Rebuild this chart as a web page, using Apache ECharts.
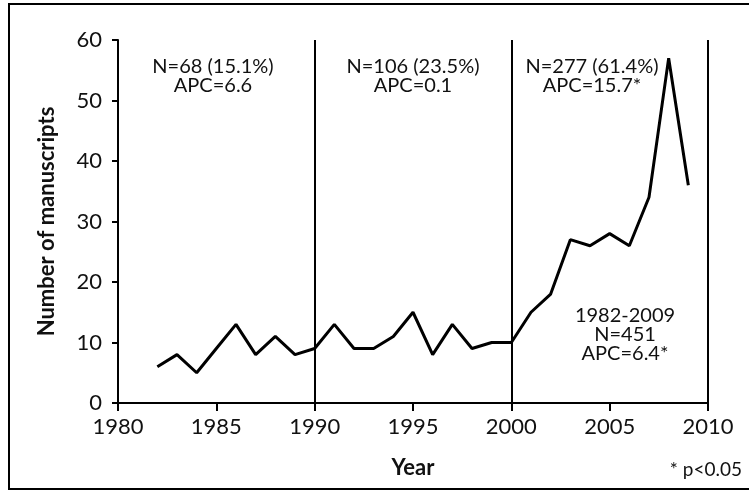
<!DOCTYPE html>
<html>
<head>
<meta charset="utf-8">
<script src="https://cdn.jsdelivr.net/npm/echarts@6/dist/echarts.min.js"></script>
<style>html,body{margin:0;padding:0;background:#fff;}#c{width:749px;height:493px;}</style>
</head>
<body>
<div id="c"></div>
<script>
var years = [1982,1983,1984,1985,1986,1987,1988,1989,1990,1991,1992,1993,1994,1995,1996,1997,1998,1999,2000,2001,2002,2003,2004,2005,2006,2007,2008,2009];
var counts = [6,8,5,9,13,8,11,8,9,13,9,9,11,15,8,13,9,10,10,15,18,27,26,28,26,34,57,36];
var dividers = [1990, 2000, 2010];
var xTicks = [1980,1985,1990,1995,2000,2005,2010];
var yTicks = [0,10,20,30,40,50,60];
var seg1 = ["N=68 (15.1%)", "APC=6.6"];
var seg2 = ["N=106 (23.5%)", "APC=0.1"];
var seg3 = ["N=277 (61.4%)", "APC=15.7*"];
var overall = ["1982-2009", "N=451", "APC=6.4*"];
var note = "* p<0.05";

var FONT = 'Lato';
var chart = echarts.init(document.getElementById('c'), null, {renderer:'canvas'});
var data = years.map(function(y,i){return [y, counts[i]];});

function txt(lines, x, y){
  return {type:'text', x:x, y:y, style:{text:lines.join('\n'), font:'20px ' + FONT, fill:'#111', align:'center', verticalAlign:'top', lineHeight:19}};
}

chart.setOption({
  backgroundColor:'#fff',
  animation:false,
  grid:{left:118, right:41, top:40, bottom:90, containLabel:false},
  xAxis:{
    type:'value', min:xTicks[0], max:xTicks[xTicks.length-1], interval:5,
    name:'Year', nameLocation:'middle', nameGap:54,
    nameTextStyle:{fontFamily:FONT, fontSize:22, fontWeight:'bold', color:'#111'},
    axisLine:{show:true, onZero:false, lineStyle:{color:'#000', width:2}},
    axisTick:{show:true, inside:false, length:8, lineStyle:{color:'#000', width:2}},
    axisLabel:{margin:13, fontFamily:FONT, fontSize:22, color:'#111', formatter:function(v){return String(v);}},
    splitLine:{show:false}
  },
  yAxis:{
    type:'value', min:yTicks[0], max:yTicks[yTicks.length-1], interval:10,
    name:'Number of manuscripts', nameLocation:'middle', nameGap:60,
    nameTextStyle:{fontFamily:FONT, fontSize:22, fontWeight:'bold', color:'#111'},
    axisLine:{show:true, lineStyle:{color:'#000', width:2}},
    axisTick:{show:true, inside:false, length:6, lineStyle:{color:'#000', width:2}},
    axisLabel:{margin:16, fontFamily:FONT, fontSize:22, color:'#111'},
    splitLine:{show:false}
  },
  series:[{
    type:'line', data:data, symbol:'none',
    lineStyle:{color:'#000', width:3},
    markLine:{
      silent:true, symbol:['none','none'], label:{show:false},
      lineStyle:{color:'#000', width:2, type:'solid'},
      data:dividers.map(function(d){return {xAxis:d};})
    }
  }],
  graphic:[
    {type:'rect', shape:{x:9, y:4, width:745, height:485}, style:{fill:'none', stroke:'#000', lineWidth:2}},
    txt(seg1, 213, 57),
    txt(seg2, 413, 57),
    txt(seg3, 592, 57),
    txt(overall, 625, 306),
    {type:'text', x:742, y:470, style:{text:note, font:'19px ' + FONT, fill:'#111', align:'right', verticalAlign:'middle'}}
  ]
});
</script>
</body>
</html>
